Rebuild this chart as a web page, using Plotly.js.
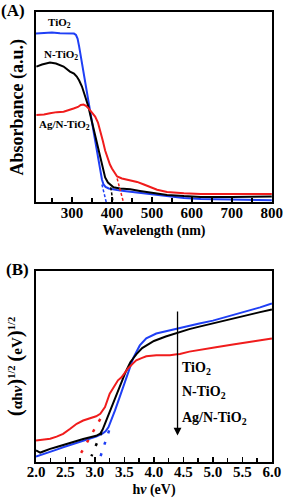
<!DOCTYPE html>
<html>
<head>
<meta charset="utf-8">
<script src="https://cdn.plot.ly/plotly-3.0.1.min.js"></script>
<style>html,body{margin:0;padding:0;background:#fff;}#chart{width:283px;height:498px;}</style>
</head>
<body>
<div id="chart"></div>
<script>
// ---------- Panel A: UV-vis absorbance ----------
const wlTiO2 = [210,230,250,270,290,305,310,314,318,322,327,333,341,346,352,358,364,370,375,379,384,392,400,413,430,455,496,538,580,622,660,706,750,800];
const absTiO2 = [0.845,0.848,0.85,0.847,0.848,0.845,0.838,0.82,0.78,0.735,0.68,0.61,0.51,0.45,0.38,0.31,0.24,0.17,0.115,0.09,0.078,0.07,0.066,0.062,0.058,0.052,0.045,0.032,0.022,0.017,0.015,0.013,0.012,0.011];

const wlNTiO2 = [211,225,245,260,279,295,305,312,318,325,333,341,348,354,362,371,378,383,390,396,404,420,446,470,496,538,580,622,700,800];
const absNTiO2 = [0.68,0.69,0.70,0.695,0.68,0.655,0.645,0.63,0.61,0.58,0.53,0.48,0.42,0.37,0.3,0.22,0.16,0.125,0.1,0.09,0.076,0.07,0.066,0.058,0.049,0.038,0.032,0.028,0.028,0.03];

const wlAgN = [211,230,245,262,279,295,304,315,322,329,335,341,350,358,365,371,377,383,390,395,400,406,413,425,438,450,463,480,496,513,538,560,580,622,700,800];
const absAgN = [0.4375,0.44,0.446,0.452,0.454,0.462,0.47,0.478,0.488,0.49,0.484,0.472,0.45,0.43,0.40,0.36,0.31,0.26,0.215,0.19,0.17,0.148,0.13,0.12,0.115,0.11,0.103,0.09,0.077,0.064,0.052,0.048,0.046,0.043,0.042,0.042];

// tangent (band-edge) extrapolation lines, panel A
const tanTiO2X = [375, 386], tanTiO2Y = [0.09, 0.0];
const tanNTiO2X = [397, 403], tanNTiO2Y = [0.075, 0.0];
const tanAgNX = [413, 429], tanAgNY = [0.12, 0.0];

// ---------- Panel B: Tauc plot ----------
const hvTiO2 = [2.0,2.1,2.24,2.35,2.46,2.6,2.69,2.8,2.92,3.02,3.12,3.18,3.23,3.28,3.34,3.41,3.48,3.56,3.65,3.76,3.87,4.04,4.2,4.38,4.6,4.77,5.0,5.34,5.6,5.8,6.0];
const tauTiO2 = [0.023,0.033,0.047,0.062,0.075,0.09,0.098,0.11,0.123,0.135,0.151,0.165,0.189,0.23,0.283,0.35,0.415,0.5,0.58,0.65,0.69,0.717,0.73,0.745,0.762,0.774,0.79,0.82,0.845,0.865,0.887];

const hvNTiO2 = [2.0,2.04,2.07,2.11,2.16,2.24,2.35,2.46,2.58,2.69,2.8,2.92,3.02,3.09,3.13,3.17,3.26,3.34,3.43,3.52,3.6,3.7,3.8,3.93,4.0,4.2,4.39,4.6,4.77,5.0,5.34,5.6,5.8,6.0];
const tauNTiO2 = [0.057,0.05,0.045,0.05,0.058,0.066,0.077,0.089,0.1,0.113,0.122,0.132,0.14,0.152,0.175,0.208,0.283,0.36,0.434,0.5,0.555,0.6,0.635,0.662,0.675,0.70,0.722,0.742,0.756,0.775,0.80,0.822,0.838,0.853];

const hvAgN = [2.0,2.12,2.24,2.35,2.46,2.58,2.69,2.8,2.92,3.02,3.09,3.17,3.25,3.33,3.39,3.45,3.56,3.65,3.7,3.8,3.87,4.04,4.1,4.27,4.39,4.44,4.6,4.77,5.05,5.34,5.6,6.0];
const tauAgN = [0.113,0.116,0.123,0.135,0.151,0.18,0.208,0.226,0.24,0.25,0.264,0.302,0.377,0.425,0.453,0.47,0.52,0.55,0.566,0.58,0.589,0.594,0.594,0.594,0.6,0.602,0.615,0.626,0.64,0.655,0.668,0.689];

// tangent extrapolation (dotted), panel B
const tbTiO2X = [3.24, 3.09], tbTiO2Y = [0.17, 0.02];
const tbNTiO2X = [3.11, 2.94], tbNTiO2Y = [0.16, 0.025];
const tbAgNX = [3.09, 2.72], tbAgNY = [0.235, 0.017];

const sampleNames = ['TiO<sub>2</sub>', 'N-TiO<sub>2</sub>', 'Ag/N-TiO<sub>2</sub>'];

const BLUE = '#1f3ff5', BLACK = '#000000', RED = '#f01c1c';
const FONT = 'Liberation Serif';

function line(x, y, color, xa, ya, extra) {
  return Object.assign({x: x, y: y, type: 'scatter', mode: 'lines', xaxis: xa, yaxis: ya,
    line: {color: color, width: 2}, showlegend: false, hoverinfo: 'skip'}, extra || {});
}

const data = [
  line(wlTiO2, absTiO2, BLUE, 'x', 'y'),
  line(wlNTiO2, absNTiO2, BLACK, 'x', 'y'),
  line(wlAgN, absAgN, RED, 'x', 'y'),
  line(tanTiO2X, tanTiO2Y, BLUE, 'x', 'y', {line: {color: BLUE, width: 1.5, dash: '3px,2px'}}),
  line(tanNTiO2X, tanNTiO2Y, BLACK, 'x', 'y', {line: {color: BLACK, width: 1.5, dash: '3px,2px'}}),
  line(tanAgNX, tanAgNY, RED, 'x', 'y', {line: {color: RED, width: 1.5, dash: '3px,2px'}}),
  line(hvTiO2, tauTiO2, BLUE, 'x2', 'y2'),
  line(hvNTiO2, tauNTiO2, BLACK, 'x2', 'y2'),
  line(hvAgN, tauAgN, RED, 'x2', 'y2'),
  line(tbTiO2X, tbTiO2Y, BLUE, 'x2', 'y2', {line: {color: BLUE, width: 2.5, dash: '3px,9px'}}),
  line(tbNTiO2X, tbNTiO2Y, BLACK, 'x2', 'y2', {line: {color: BLACK, width: 2.5, dash: '3px,9px'}}),
  line(tbAgNX, tbAgNY, RED, 'x2', 'y2', {line: {color: RED, width: 2.5, dash: '3px,9px'}})
];

const axBase = {showgrid: false, zeroline: false, showline: true, linecolor: '#000', linewidth: 2, mirror: true,
  ticks: 'inside', ticklen: 5, tickwidth: 1.5, tickcolor: '#000', automargin: false, ticklabeloverflow: 'allow',
  tickfont: {size: 15, family: FONT, weight: 'bold'}};

const layout = {
  width: 283, height: 498,
  margin: {l: 36, r: 11, t: 12, b: 36},
  paper_bgcolor: '#fff', plot_bgcolor: '#fff',
  font: {family: FONT, color: '#000', weight: 'bold'},
  xaxis: Object.assign({}, axBase, {domain: [0, 1], anchor: 'y', range: [210, 800.5], tick0: 300, dtick: 100, ticklabelstandoff: -4,
    minor: {dtick: 50, tick0: 250, ticks: 'inside', ticklen: 4, tickwidth: 1.5, tickcolor: '#000'},
    title: {text: 'Wavelength (nm)', font: {size: 14, family: FONT, weight: 'bold'}, standoff: 5}}),
  yaxis: Object.assign({}, axBase, {domain: [0.5767, 1], anchor: 'x', range: [0, 0.953], ticks: '', showticklabels: false,
    title: {text: 'Absorbance (a.u.)', font: {size: 18, family: FONT, weight: 'bold'}, standoff: 6}}),
  xaxis2: Object.assign({}, axBase, {domain: [0, 1], anchor: 'y2', range: [2, 6.002], tick0: 2, dtick: 0.5, tickformat: '.1f', ticklabelstandoff: -5,
    minor: {dtick: 0.25, ticks: 'inside', ticklen: 4, tickwidth: 1.5, tickcolor: '#000'},
    title: {text: 'h<i>ν</i> (eV)', font: {size: 14, family: FONT, weight: 'bold'}, standoff: 6}}),
  yaxis2: Object.assign({}, axBase, {domain: [0, 0.4244], anchor: 'x2', range: [-0.008, 1.07], ticks: '', showticklabels: false,
    title: {text: '<span style="font-size:21px">(</span>αh<i>ν</i><span style="font-size:21px">)</span><sup>1/2</sup> <span style="font-size:21px">(</span>eV<span style="font-size:21px">)</span><sup>1/2</sup>',
      font: {size: 15, family: FONT, weight: 'bold'}, standoff: 8}}),
  annotations: [
    {text: '(A)', xref: 'paper', yref: 'paper', x: -0.155, y: 1.0, xanchor: 'left', yanchor: 'middle', yshift: 2, showarrow: false, font: {size: 17}},
    {text: '(B)', xref: 'paper', yref: 'paper', x: -0.135, y: 0.4267, xanchor: 'left', yanchor: 'middle', showarrow: false, font: {size: 17}},
    {text: sampleNames[0], xref: 'x', yref: 'y', x: 236, y: 0.896, xanchor: 'left', yanchor: 'middle', showarrow: false, font: {size: 11}},
    {text: sampleNames[1], xref: 'x', yref: 'y', x: 226, y: 0.7375, xanchor: 'left', yanchor: 'middle', showarrow: false, font: {size: 11}},
    {text: sampleNames[2], xref: 'x', yref: 'y', x: 212, y: 0.3875, xanchor: 'left', yanchor: 'middle', showarrow: false, font: {size: 11}},
    {text: sampleNames[0], xref: 'x2', yref: 'y2', x: 4.45, y: 0.518, xanchor: 'left', yanchor: 'middle', showarrow: false, font: {size: 14}},
    {text: sampleNames[1], xref: 'x2', yref: 'y2', x: 4.45, y: 0.382, xanchor: 'left', yanchor: 'middle', showarrow: false, font: {size: 14}},
    {text: sampleNames[2], xref: 'x2', yref: 'y2', x: 4.45, y: 0.238, xanchor: 'left', yanchor: 'middle', showarrow: false, font: {size: 14}},
    {text: '', xref: 'x2', yref: 'y2', x: 4.4, y: 0.142, axref: 'x2', ayref: 'y2', ax: 4.4, ay: 0.85,
      showarrow: true, arrowhead: 2, arrowsize: 1.2, arrowwidth: 1.3, arrowcolor: '#000'}
  ]
};

Plotly.newPlot('chart', data, layout, {staticPlot: true, displayModeBar: false});
</script>
</body>
</html>
